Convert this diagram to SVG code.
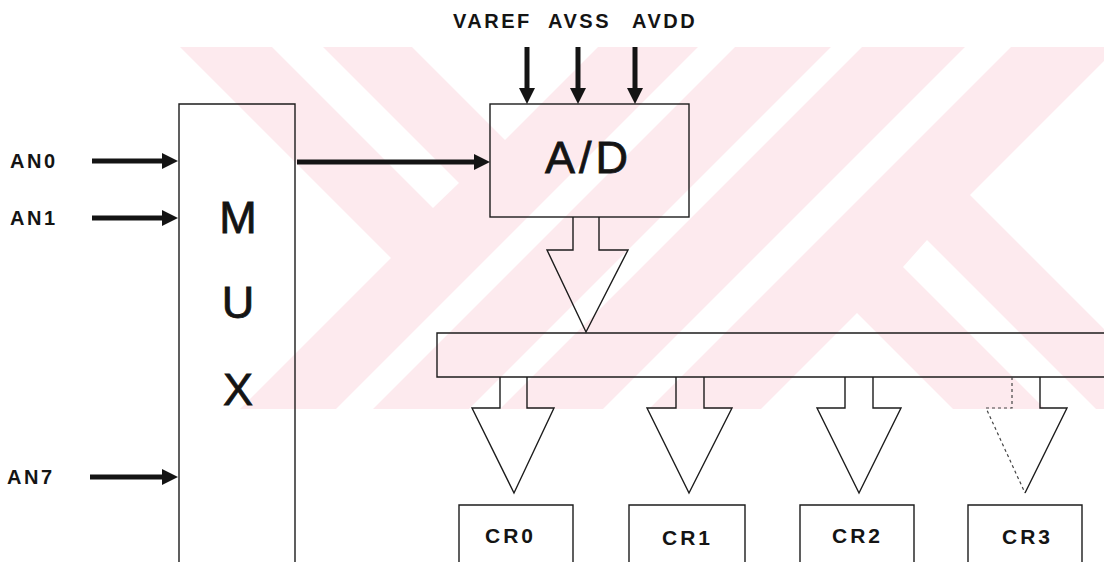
<svg xmlns="http://www.w3.org/2000/svg" width="1104" height="562" viewBox="0 0 1104 562">
<style>
.wm{fill:#fdeaee}
.wmw{fill:#ffffff}
.box{fill:none;stroke:#1c1c1c;stroke-width:1.4}
.fat{fill:none;stroke:#1c1c1c;stroke-width:1.4;stroke-linejoin:miter}
.dot{fill:none;stroke:#444;stroke-width:1.2;stroke-dasharray:3 3}
.wire{stroke:#141414;stroke-width:5;fill:none;marker-end:url(#ah)}
.lbl{font-family:"Liberation Sans",Arial,Helvetica,sans-serif;font-weight:bold;font-size:20px;fill:#141414;letter-spacing:2.5px}
.cr{font-family:"Liberation Sans",Arial,Helvetica,sans-serif;font-weight:bold;font-size:21px;fill:#141414;letter-spacing:3px}
.big{font-family:"Liberation Sans",Arial,Helvetica,sans-serif;font-size:45px;fill:#141414;stroke:#141414;stroke-width:0.8}
</style>
<defs>
<marker id="ah" viewBox="0 0 16 16" refX="0" refY="8" markerWidth="16" markerHeight="17" markerUnits="userSpaceOnUse" orient="auto">
<path d="M0,0 L16,8 L0,16 z" fill="#141414"/>
</marker>
</defs>
<rect width="1104" height="562" fill="#ffffff"/>
<g id="watermark">
<polygon class="wm" points="180,47 1104,47 1104,409 240,409 391,258"/>
<polygon class="wmw" points="272,47 323,47 459,183 433,208"/>
<polygon class="wmw" points="412,47 598,47 505,140"/>
<polygon class="wmw" points="698,47 735,47 373,409 336,409"/>
<polygon class="wmw" points="831,47 862,47 500,409 469,409"/>
<polygon class="wmw" points="965,47 1011,47 649,409 603,409"/>
<polygon class="wmw" points="970,195 1104,61 1104,329"/>
<polygon class="wmw" points="903,267 927,240 1096,409 1045,409"/>
<polygon class="wmw" points="857,313 953,409 761,409"/>
</g>
<g id="mux">
<path class="box" d="M179,570 V104 H295 V570"/>
<text class="big" x="238" y="233" text-anchor="middle">M</text>
<text class="big" x="238" y="318" text-anchor="middle">U</text>
<text class="big" x="238" y="405" text-anchor="middle">X</text>
</g>
<g id="adc">
<rect class="box" x="490" y="104" width="199" height="113"/>
<text class="big" x="545" y="173" style="letter-spacing:4px">A/D</text>
</g>
<g id="bus">
<path class="box" d="M1110,333 H437 V377 H1110"/>
</g>
<g id="cr0">
<path class="box" d="M459,570 V505 H573 V570"/>
<text class="cr" x="485" y="543">CR0</text>
</g>
<g id="cr1">
<path class="box" d="M629,570 V505 H745 V570"/>
<text class="cr" x="662" y="545">CR1</text>
</g>
<g id="cr2">
<path class="box" d="M800,570 V505 H914 V570"/>
<text class="cr" x="832" y="543">CR2</text>
</g>
<g id="cr3">
<path class="box" d="M968,570 V505 H1082 V570"/>
<text class="cr" x="1002" y="544">CR3</text>
</g>
<g id="labels">
<text class="lbl" x="453" y="28">VAREF</text>
<text class="lbl" x="548" y="28">AVSS</text>
<text class="lbl" x="632" y="28">AVDD</text>
<text class="lbl" x="10" y="168">AN0</text>
<text class="lbl" x="10" y="225">AN1</text>
<text class="lbl" x="7" y="484">AN7</text>
</g>
<g id="connectors">
<line class="wire" x1="527" y1="47" x2="527" y2="88"/>
<line class="wire" x1="578" y1="47" x2="578" y2="88"/>
<line class="wire" x1="635" y1="47" x2="635" y2="88"/>
<line class="wire" x1="92" y1="161" x2="162" y2="161"/>
<line class="wire" x1="92" y1="218" x2="162" y2="218"/>
<line class="wire" x1="90" y1="477" x2="162" y2="477"/>
<line class="wire" x1="297" y1="162" x2="474" y2="162"/>
<path class="fat" d="M573,217 V250 H547 L586,332 L628,250 H599 V217"/>
<path class="fat" d="M500,377 V408 H472 L514,493 L554,408 H527 V377"/>
<path class="fat" d="M676,377 V408 H647 L689,493 L732,408 H704 V377"/>
<path class="fat" d="M845,377 V408 H817 L859,493 L901,408 H873 V377"/>
<path class="fat" d="M1040,377 V408 H1067 L1025,493"/>
<path class="dot" d="M1012,377 V408 H986 L1025,493"/>
</g>
</svg>
